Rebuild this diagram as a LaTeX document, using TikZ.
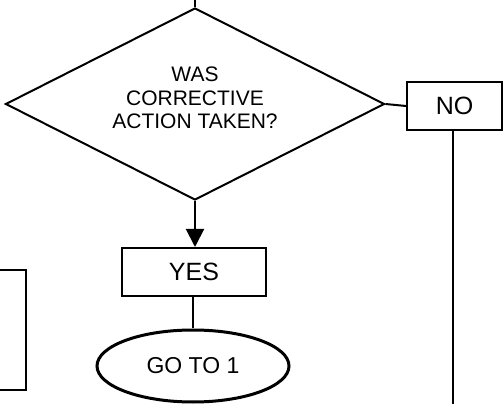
\documentclass[tikz,border=0pt]{standalone}
\usepackage{fontspec}
\setmainfont{Liberation Sans}
\usetikzlibrary{arrows.meta, positioning, shapes.geometric}

\begin{document}
\begin{tikzpicture}[
    x=1pt, y=1pt,
    box/.style={draw, line width=2pt, minimum width=95pt, minimum height=48pt, inner sep=0pt, font=\fontsize{25}{28}\selectfont},
    decision/.style={draw, diamond, aspect=2, line width=2pt, minimum width=379pt, minimum height=192pt, inner sep=0pt},
    terminal/.style={draw, ellipse, line width=3pt, minimum width=192pt, minimum height=72pt, inner sep=0pt, font=\fontsize{23}{26}\selectfont},
    line/.style={line width=2pt},
    arrow/.style={line width=2pt, -{Triangle[length=18pt, width=18pt]}},
]
\clip (0,0) rectangle (503,404);
\node[decision] (check) at (195,300) {};
\node[align=center, font=\fontsize{21}{23.5}\selectfont] (question) at ([yshift=6pt]check.center) {WAS\\CORRECTIVE\\ACTION TAKEN?};
\node[box] (no) at (454.5,298) {NO};
\node[box, minimum width=144pt] (yes) at (194,132) {YES};
\node[terminal] (goto) at (193,38) {GO TO 1};
\node[box, minimum width=120pt, minimum height=120pt] (prev) at (-34,74) {};
\coordinate (top) at (195,404);
\coordinate (down) at (453,-2);

\draw[line] (top) -- (check.north);
\draw[line] (check.east) -- (no.west);
\draw[line] (no.south -| down) -- (down);
\draw[arrow] (check.south) -- (check.south |- yes.north);
\draw[line] (yes.south -| goto) -- (goto);

\end{tikzpicture}
\end{document}
